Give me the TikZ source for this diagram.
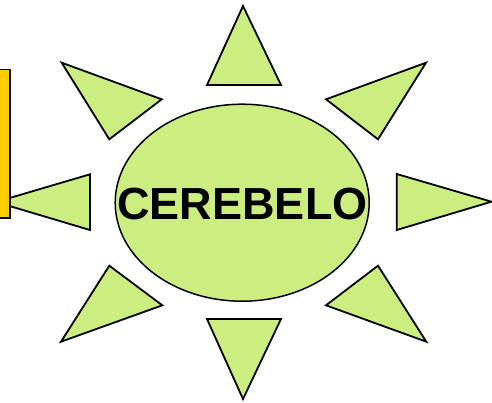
\documentclass[tikz,border=0pt]{standalone}
\usepackage{fontspec}
\setmainfont{Liberation Sans}
\usetikzlibrary{shapes.geometric}
\definecolor{raygreen}{RGB}{204,238,128}
\definecolor{boxyellow}{RGB}{255,204,0}
\begin{document}
\begin{tikzpicture}[x=1pt,y=-1pt,
  ray/.style={draw=black,fill=raygreen,line width=1.8pt,line join=miter},
  core/.style={ellipse,draw=black,fill=raygreen,line width=1.5pt,minimum width=254pt,minimum height=197pt,inner sep=0pt},
  label/.style={inner sep=0pt,font=\fontsize{45}{50}\selectfont\bfseries},
  sidebox/.style={draw=black,fill=boxyellow,line width=1.5pt}]
\useasboundingbox (0,0) rectangle (492,402);
\clip (0,0) rectangle (492,402);
% rays
\draw[ray] (243,6) -- (207,85) -- (281,85) -- cycle;
\draw[ray] (207,319) -- (281,319) -- (243,399) -- cycle;
\draw[ray] (61.7,62.7) -- (161.7,99.3) -- (109.3,139.3) -- cycle;
\draw[ray] (426,62.7) -- (326,99.3) -- (378,139.3) -- cycle;
\draw[ray] (109.3,265.7) -- (162.3,305.3) -- (61,341.7) -- cycle;
\draw[ray] (378,265.7) -- (326,305.3) -- (426.3,341.7) -- cycle;
\draw[ray] (396.7,174) -- (491.5,201.7) -- (396.7,230) -- cycle;
\draw[ray] (90,174.3) -- (-4,202) -- (90,230) -- cycle;
% yellow box at left edge, over the left ray
\draw[sidebox] (-20,69.5) rectangle (10,218);
% center
\node[core] (c) at (242.2,202.7) {};
\node[label] (t) at (242.5,204) {CEREBELO};
\end{tikzpicture}
\end{document}
